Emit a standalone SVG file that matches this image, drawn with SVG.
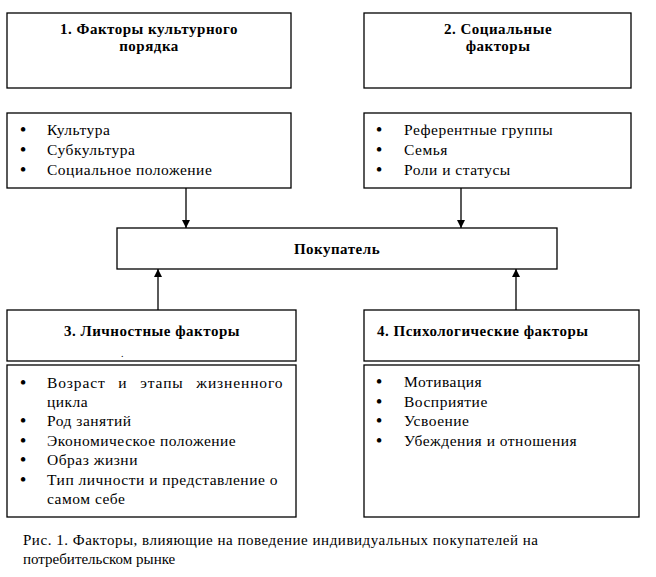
<svg xmlns="http://www.w3.org/2000/svg" width="656" height="577" viewBox="0 0 656 577" font-family="'Liberation Serif', 'DejaVu Serif', serif">
<style>
rect{fill:#fff;stroke:#000;stroke-width:1.3}
text{font-size:15.5px;letter-spacing:0.5px;fill:#000}
.t{font-weight:bold;font-size:15px}
.c{text-anchor:middle}
.b{font-size:19px;text-anchor:middle;letter-spacing:0}
.cap{font-size:15px;letter-spacing:0}
line{stroke:#000;stroke-width:1.3}
</style>
<defs>
<marker id="ah" viewBox="0 0 10 10" refX="10" refY="5" markerWidth="8" markerHeight="8" markerUnits="userSpaceOnUse" orient="auto"><path d="M0,0L10,5L0,10z" fill="#000"/></marker>
</defs>
<rect width="656" height="577" style="stroke:none"/>
<g id="connectors">
<line x1="186" y1="188" x2="186" y2="228" marker-end="url(#ah)"/>
<line x1="461" y1="188" x2="461" y2="228" marker-end="url(#ah)"/>
<line x1="158" y1="310" x2="158" y2="269" marker-end="url(#ah)"/>
<line x1="516" y1="310" x2="516" y2="269" marker-end="url(#ah)"/>
</g>
<g id="n1">
<rect x="7" y="13" width="284" height="75"/>
<text class="t c" x="149" y="34">1. Факторы культурного</text>
<text class="t c" x="149" y="51">порядка</text>
</g>
<g id="n1list">
<rect x="7" y="113" width="284" height="75"/>
<text class="b" x="23" y="136">•</text><text x="47" y="135">Культура</text>
<text class="b" x="23" y="156">•</text><text x="47" y="155">Субкультура</text>
<text class="b" x="23" y="176">•</text><text x="47" y="175">Социальное положение</text>
</g>
<g id="n2">
<rect x="364" y="13" width="267" height="75"/>
<text class="t c" x="498" y="34">2. Социальные</text>
<text class="t c" x="498" y="51">факторы</text>
</g>
<g id="n2list">
<rect x="364" y="113" width="267" height="75"/>
<text class="b" x="379" y="136">•</text><text x="404" y="135">Референтные группы</text>
<text class="b" x="379" y="156">•</text><text x="404" y="155">Семья</text>
<text class="b" x="379" y="176">•</text><text x="404" y="175">Роли и статусы</text>
</g>
<g id="buyer">
<rect x="117" y="228" width="440" height="41"/>
<text class="t c" x="337" y="254">Покупатель</text>
</g>
<g id="n3">
<rect x="7" y="310" width="289" height="51"/>
<text class="t c" x="152" y="336">3. Личностные факторы</text>
<text x="121" y="357" style="font-size:10px">.</text>
</g>
<g id="n3list">
<rect x="7" y="365" width="289" height="152"/>
<text class="b" x="23" y="389">•</text><text x="47" y="388" textLength="236" lengthAdjust="spacing" style="letter-spacing:0.5px;word-spacing:8px">Возраст и этапы жизненного</text>
<text x="47" y="407">цикла</text>
<text class="b" x="23" y="427">•</text><text x="47" y="426">Род занятий</text>
<text class="b" x="23" y="447">•</text><text x="47" y="446">Экономическое положение</text>
<text class="b" x="23" y="466">•</text><text x="47" y="465">Образ жизни</text>
<text class="b" x="23" y="486">•</text><text x="47" y="485">Тип личности и представление о</text>
<text x="47" y="504">самом себе</text>
</g>
<g id="n4">
<rect x="364" y="310" width="275" height="51"/>
<text class="t" x="377" y="336">4. Психологические факторы</text>
</g>
<g id="n4list">
<rect x="364" y="365" width="275" height="152"/>
<text class="b" x="379" y="388">•</text><text x="404" y="387">Мотивация</text>
<text class="b" x="379" y="408">•</text><text x="404" y="407">Восприятие</text>
<text class="b" x="379" y="427">•</text><text x="404" y="426">Усвоение</text>
<text class="b" x="379" y="447">•</text><text x="404" y="446">Убеждения и отношения</text>
</g>
<g id="caption">
<text class="cap" x="23" y="545" textLength="515" lengthAdjust="spacing">Рис. 1. Факторы, влияющие на поведение индивидуальных покупателей на</text>
<text class="cap" x="23" y="564">потребительском рынке</text>
</g>
</svg>
